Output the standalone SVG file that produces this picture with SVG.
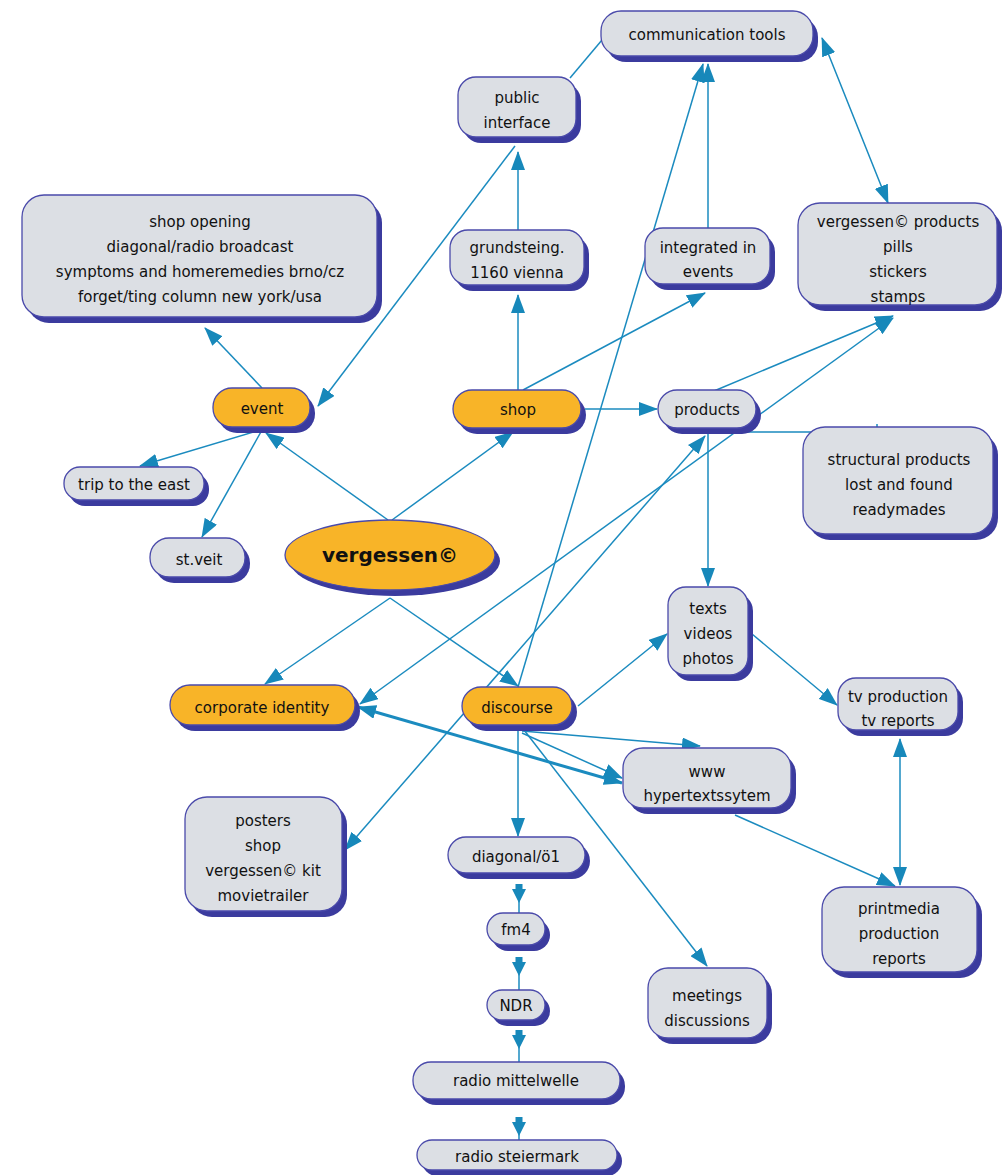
<svg xmlns="http://www.w3.org/2000/svg" width="1007" height="1175" viewBox="0 0 1007 1175">
<defs>
<marker id="ah" markerUnits="userSpaceOnUse" markerWidth="19" markerHeight="14" refX="18" refY="7" orient="auto-start-reverse">
<path d="M0,0 L19,7 L0,14 z" fill="#1788ba"/>
</marker>
<marker id="dn" markerUnits="userSpaceOnUse" markerWidth="20" markerHeight="16" refX="0" refY="8" orient="auto">
<path d="M0,4.5 L5,4.5 L5,1 L19,8 L5,15 L5,11.5 L0,11.5 z" fill="#1788ba"/>
</marker>
<style>
.c{stroke:#1b8bbf;stroke-width:1.5;fill:none}
.ct{stroke:#1b8bbf;stroke-width:3;fill:none}
.sh{fill:#3b3b9e}
.b{fill:#dcdfe4;stroke:#4a4aaa;stroke-width:1.3}
.o{fill:#f8b428;stroke:#4a4aaa;stroke-width:1.3}
text{font-family:"DejaVu Sans","Liberation Sans",sans-serif;font-size:15px;fill:#111;text-anchor:middle}
.big{font-size:20px;font-weight:bold}
</style>
</defs>
<rect width="1007" height="1175" fill="#ffffff"/>
<g id="connectors">
<path class="c" d="M570,78 L602,40"/>
<path class="c" d="M518,230 L518,152" marker-end="url(#ah)"/>
<path class="c" d="M518,390 L518,295" marker-end="url(#ah)"/>
<path class="c" d="M515,146 L318,406" marker-end="url(#ah)"/>
<path class="c" d="M708,228 L708,64" marker-end="url(#ah)"/>
<path class="c" d="M518,687 L703,64" marker-end="url(#ah)"/>
<path class="c" d="M523,390 L705,293" marker-end="url(#ah)"/>
<path class="c" d="M822,38 L888,203" marker-start="url(#ah)" marker-end="url(#ah)"/>
<path class="c" d="M714,391 L893,316" marker-end="url(#ah)"/>
<path class="c" d="M360,704 L893,318" marker-start="url(#ah)" marker-end="url(#ah)"/>
<path class="c" d="M585,409 L657,409" marker-end="url(#ah)"/>
<path class="c" d="M740,432 L878,432 M877,424 L877,430"/>
<path class="c" d="M708,428 L708,586" marker-end="url(#ah)"/>
<path class="c" d="M388,520 L266,433" marker-end="url(#ah)"/>
<path class="c" d="M392,520 L513,432" marker-end="url(#ah)"/>
<path class="c" d="M260,430 L140,466" marker-end="url(#ah)"/>
<path class="c" d="M262,430 L202,537" marker-end="url(#ah)"/>
<path class="c" d="M262,388 L205,328" marker-end="url(#ah)"/>
<path class="c" d="M390,598 L265,684" marker-end="url(#ah)"/>
<path class="c" d="M390,598 L518,686" marker-end="url(#ah)"/>
<path class="c" d="M578,706 L667,634" marker-end="url(#ah)"/>
<path class="c" d="M752,634 L837,705" marker-end="url(#ah)"/>
<path class="c" d="M900,739 L900,885" marker-start="url(#ah)" marker-end="url(#ah)"/>
<path class="c" d="M735,815 L895,886" marker-end="url(#ah)"/>
<path class="c" d="M518,730 L518,836" marker-end="url(#ah)"/>
<path class="c" d="M519,884 L519,913" marker-start="url(#dn)"/>
<path class="c" d="M519,957 L519,990" marker-start="url(#dn)"/>
<path class="c" d="M519,1030 L519,1062" marker-start="url(#dn)"/>
<path class="c" d="M519,1117 L519,1140" marker-start="url(#dn)"/>
<path class="c" d="M524,730 L707,966" marker-end="url(#ah)"/>
<path class="c" d="M522,731 L700,746" marker-end="url(#ah)"/>
<path class="c" d="M522,733 L622,778" marker-end="url(#ah)"/>
<path class="ct" d="M358,707 L622,783" marker-start="url(#ah)" marker-end="url(#ah)"/>
<path class="c" d="M705,436 L345,850" marker-start="url(#ah)" marker-end="url(#ah)"/>
</g>
<g id="n-comm"><rect class="sh" x="606" y="17" width="212" height="45" rx="20"/><rect class="b" x="601" y="11" width="212" height="45" rx="20"/><text x="707" y="40">communication tools</text></g>
<g id="n-public"><rect class="sh" x="463" y="83" width="118" height="60" rx="18"/><rect class="b" x="458" y="77" width="118" height="60" rx="18"/><text x="517" y="103">public</text><text x="517" y="128">interface</text></g>
<g id="n-shopopening"><rect class="sh" x="27" y="201" width="355" height="122" rx="22"/><rect class="b" x="22" y="195" width="355" height="122" rx="22"/><text x="200" y="227">shop opening</text><text x="200" y="252">diagonal/radio broadcast</text><text x="200" y="277">symptoms and homeremedies brno/cz</text><text x="200" y="302">forget/ting column new york/usa</text></g>
<g id="n-grund"><rect class="sh" x="455" y="236" width="134" height="55" rx="18"/><rect class="b" x="450" y="230" width="134" height="55" rx="18"/><text x="517" y="253">grundsteing.</text><text x="517" y="278">1160 vienna</text></g>
<g id="n-integrated"><rect class="sh" x="650" y="234" width="125" height="56" rx="18"/><rect class="b" x="645" y="228" width="125" height="56" rx="18"/><text x="708" y="253">integrated in</text><text x="708" y="277">events</text></g>
<g id="n-vproducts"><rect class="sh" x="803" y="209" width="199" height="102" rx="22"/><rect class="b" x="798" y="203" width="199" height="102" rx="22"/><text x="898" y="227">vergessen© products</text><text x="898" y="252">pills</text><text x="898" y="277">stickers</text><text x="898" y="302">stamps</text></g>
<g id="n-event"><rect class="sh" x="218" y="394" width="97" height="39" rx="19"/><rect class="o" x="213" y="388" width="97" height="39" rx="19"/><text x="262" y="414">event</text></g>
<g id="n-shop"><rect class="sh" x="458" y="396" width="128" height="38" rx="19"/><rect class="o" x="453" y="390" width="128" height="38" rx="19"/><text x="518" y="415">shop</text></g>
<g id="n-products"><rect class="sh" x="663" y="396" width="98" height="38" rx="19"/><rect class="b" x="658" y="390" width="98" height="38" rx="19"/><text x="707" y="415">products</text></g>
<g id="n-structural"><rect class="sh" x="808" y="433" width="190" height="107" rx="22"/><rect class="b" x="803" y="427" width="190" height="107" rx="22"/><text x="899" y="465">structural products</text><text x="899" y="490">lost and found</text><text x="899" y="515">readymades</text></g>
<g id="n-trip"><rect class="sh" x="69" y="473" width="140" height="33" rx="16"/><rect class="b" x="64" y="467" width="140" height="33" rx="16"/><text x="134" y="490">trip to the east</text></g>
<g id="n-stveit"><rect class="sh" x="155" y="544" width="95" height="39" rx="19"/><rect class="b" x="150" y="538" width="95" height="39" rx="19"/><text x="199" y="565">st.veit</text></g>
<g id="n-vergessen"><ellipse class="sh" cx="395" cy="561" rx="105" ry="35"/><ellipse class="o" cx="390" cy="555" rx="105" ry="35"/><text class="big" x="390" y="562">vergessen©</text></g>
<g id="n-texts"><rect class="sh" x="673" y="593" width="80" height="88" rx="18"/><rect class="b" x="668" y="587" width="80" height="88" rx="18"/><text x="708" y="614">texts</text><text x="708" y="639">videos</text><text x="708" y="664">photos</text></g>
<g id="n-corporate"><rect class="sh" x="175" y="691" width="185" height="40" rx="20"/><rect class="o" x="170" y="685" width="185" height="40" rx="20"/><text x="262" y="713">corporate identity</text></g>
<g id="n-discourse"><rect class="sh" x="467" y="693" width="110" height="38" rx="19"/><rect class="o" x="462" y="687" width="110" height="38" rx="19"/><text x="517" y="713">discourse</text></g>
<g id="n-tv"><rect class="sh" x="843" y="684" width="120" height="52" rx="18"/><rect class="b" x="838" y="678" width="120" height="52" rx="18"/><text x="898" y="702">tv production</text><text x="898" y="726">tv reports</text></g>
<g id="n-www"><rect class="sh" x="628" y="754" width="168" height="60" rx="20"/><rect class="b" x="623" y="748" width="168" height="60" rx="20"/><text x="707" y="777">www</text><text x="707" y="801">hypertextssytem</text></g>
<g id="n-posters"><rect class="sh" x="190" y="803" width="157" height="114" rx="22"/><rect class="b" x="185" y="797" width="157" height="114" rx="22"/><text x="263" y="826">posters</text><text x="263" y="851">shop</text><text x="263" y="876">vergessen© kit</text><text x="263" y="901">movietrailer</text></g>
<g id="n-diagonal"><rect class="sh" x="453" y="843" width="137" height="36" rx="18"/><rect class="b" x="448" y="837" width="137" height="36" rx="18"/><text x="516" y="862">diagonal/ö1</text></g>
<g id="n-fm4"><rect class="sh" x="492" y="919" width="58" height="32" rx="16"/><rect class="b" x="487" y="913" width="58" height="32" rx="16"/><text x="516" y="935">fm4</text></g>
<g id="n-ndr"><rect class="sh" x="492" y="996" width="58" height="30" rx="15"/><rect class="b" x="487" y="990" width="58" height="30" rx="15"/><text x="516" y="1011">NDR</text></g>
<g id="n-mittelwelle"><rect class="sh" x="418" y="1068" width="207" height="37" rx="18"/><rect class="b" x="413" y="1062" width="207" height="37" rx="18"/><text x="516" y="1086">radio mittelwelle</text></g>
<g id="n-steiermark"><rect class="sh" x="422" y="1146" width="200" height="30" rx="15"/><rect class="b" x="417" y="1140" width="200" height="30" rx="15"/><text x="517" y="1162">radio steiermark</text></g>
<g id="n-meetings"><rect class="sh" x="653" y="974" width="119" height="70" rx="20"/><rect class="b" x="648" y="968" width="119" height="70" rx="20"/><text x="707" y="1001">meetings</text><text x="707" y="1026">discussions</text></g>
<g id="n-printmedia"><rect class="sh" x="827" y="893" width="155" height="85" rx="22"/><rect class="b" x="822" y="887" width="155" height="85" rx="22"/><text x="899" y="914">printmedia</text><text x="899" y="939">production</text><text x="899" y="964">reports</text></g>
</svg>
